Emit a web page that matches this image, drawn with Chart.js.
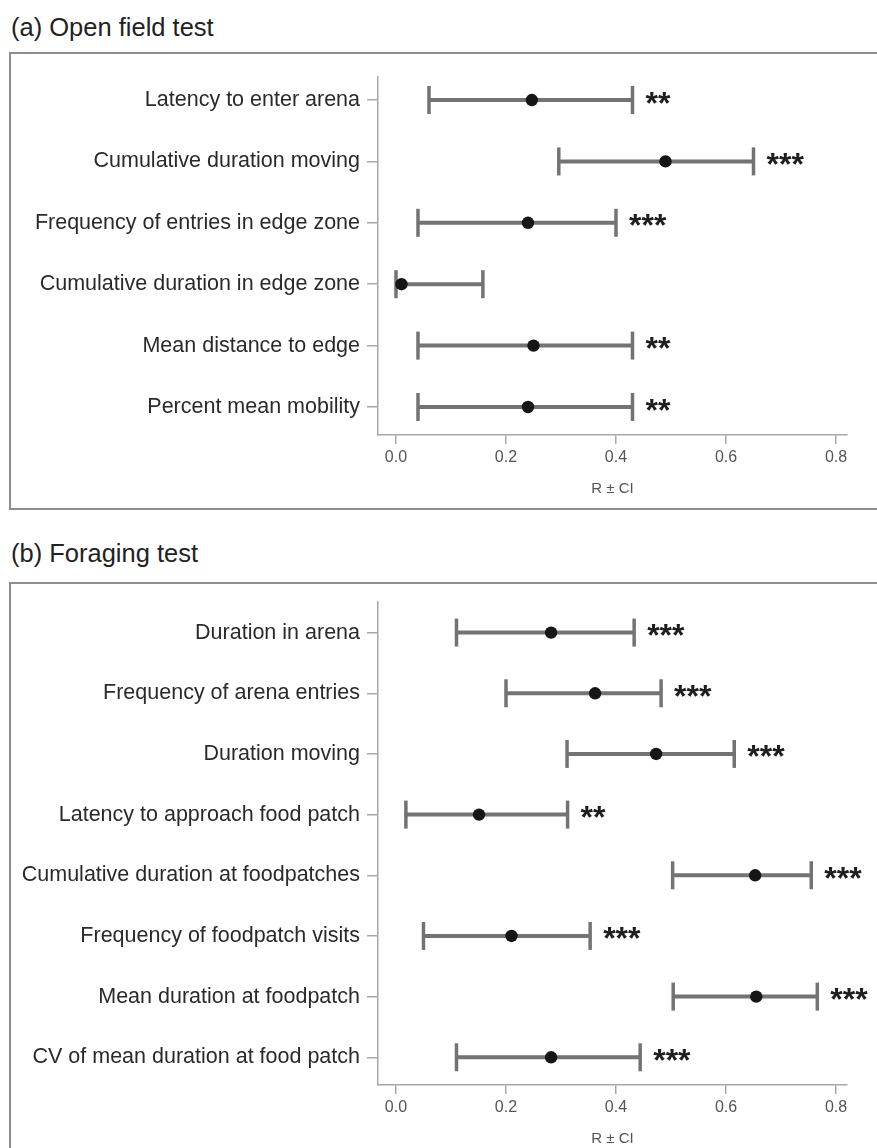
<!DOCTYPE html>
<html>
<head>
<meta charset="utf-8">
<script src="https://cdn.jsdelivr.net/npm/chart.js@4.4.1/dist/chart.umd.min.js"></script>
<style>
  html, body { margin: 0; padding: 0; background: #fff; overflow: hidden; width: 877px; height: 1148px; }
  body { position: relative; font-family: "Liberation Sans", Arial, sans-serif; }
  .title { position: absolute; left: 11px; font-size: 25.5px; line-height: 26px; color: #222; white-space: nowrap; }
  .box { position: absolute; left: 9px; width: 900px; border: 2px solid #8e8e8e; box-sizing: border-box; }
  canvas { position: absolute; left: 0; }
</style>
</head>
<body>
<div class="title" style="top:14px">(a) Open field test</div>
<div class="box" style="top:52px;height:458px"></div>
<canvas id="openField" width="877" height="456" style="top:52px"></canvas>

<div class="title" style="top:540px">(b) Foraging test</div>
<div class="box" style="top:582px;height:700px"></div>
<canvas id="foraging" width="877" height="576" style="top:582px"></canvas>

<script>
// (a) Open field test: repeatability R with confidence interval
const openLabels = [
  'Latency to enter arena',
  'Cumulative duration moving',
  'Frequency of entries in edge zone',
  'Cumulative duration in edge zone',
  'Mean distance to edge',
  'Percent mean mobility'
];
const openR  = [0.247, 0.490, 0.240, 0.010, 0.250, 0.240];
const openLo = [0.060, 0.296, 0.040, 0.000, 0.040, 0.040];
const openHi = [0.430, 0.650, 0.400, 0.158, 0.430, 0.430];
const openSig = ['**', '***', '***', '', '**', '**'];

// (b) Foraging test
const forageLabels = [
  'Duration in arena',
  'Frequency of arena entries',
  'Duration moving',
  'Latency to approach food patch',
  'Cumulative duration at foodpatches',
  'Frequency of foodpatch visits',
  'Mean duration at foodpatch',
  'CV of mean duration at food patch'
];
const forageR  = [0.282, 0.362, 0.473, 0.151, 0.653, 0.210, 0.655, 0.282];
const forageLo = [0.110, 0.200, 0.311, 0.018, 0.503, 0.050, 0.504, 0.110];
const forageHi = [0.433, 0.482, 0.615, 0.312, 0.755, 0.353, 0.766, 0.444];
const forageSig = ['***', '***', '***', '**', '***', '***', '***', '***'];

// x-axis tick values
const xTicks = [0, 0.2, 0.4, 0.6, 0.8];
const xTitle = 'R \u00b1 CI';

Chart.defaults.font.family = '"Liberation Sans", Arial, sans-serif';

const AXIS_GREY = '#a8a8a8';
const BAR_GREY = '#737373';

// significance stars written just right of each interval's upper end
const starPlugin = {
  id: 'sigStars',
  afterDatasetsDraw(chart, args, opts) {
    const { ctx } = chart;
    const xs = chart.scales.x, ys = chart.scales.y;
    ctx.save();
    ctx.fillStyle = '#1e1e1e';
    ctx.font = 'bold 32px "Liberation Sans", Arial, sans-serif';
    ctx.textAlign = 'left';
    ctx.textBaseline = 'alphabetic';
    opts.hi.forEach((h, i) => {
      if (!opts.sig[i]) return;
      const x = xs.getPixelForValue(h) + 13;
      const y = ys.getPixelForValue(i) + 13.5;
      ctx.fillText(opts.sig[i], x, y);
    });
    ctx.restore();
  }
};

function buildChart(id, labels, r, lo, hi, sig, yMin, yMax, padTop) {
  const ciData = [];
  lo.forEach((l, i) => {
    ciData.push({ x: l, y: i }, { x: hi[i], y: i }, { x: null, y: null });
  });
  const dots = r.map((v, i) => ({ x: v, y: i }));

  return new Chart(document.getElementById(id), {
    type: 'scatter',
    data: {
      datasets: [
        {
          data: dots,
          order: 0,
          pointRadius: 6.2,
          pointHoverRadius: 6.2,
          pointBackgroundColor: '#161616',
          pointBorderColor: '#161616',
          pointBorderWidth: 0
        },
        {
          data: ciData,
          order: 1,
          showLine: true,
          spanGaps: false,
          borderColor: BAR_GREY,
          borderWidth: 4,
          pointStyle: 'line',
          pointRotation: 90,
          pointRadius: 14,
          pointHoverRadius: 14,
          pointBorderColor: BAR_GREY,
          pointBorderWidth: 3.5
        }
      ]
    },
    options: {
      responsive: false,
      devicePixelRatio: 1,
      animation: false,
      events: [],
      layout: { padding: { left: 0, right: 30, top: padTop, bottom: 0 } },
      plugins: {
        legend: { display: false },
        tooltip: { enabled: false },
        sigStars: { hi: hi, sig: sig }
      },
      scales: {
        x: {
          type: 'linear',
          position: 'bottom',
          min: -0.0327,
          max: 0.82,
          bounds: 'data',
          afterBuildTicks(scale) { scale.ticks = xTicks.map(v => ({ value: v })); },
          afterFit(scale) { scale.height = 73; },
          ticks: {
            color: '#555',
            font: { size: 16 },
            padding: 4,
            callback: v => v.toFixed(1)
          },
          grid: { drawOnChartArea: false, drawTicks: true, tickLength: 9, color: AXIS_GREY, lineWidth: 1.5 },
          border: { display: true, color: AXIS_GREY, width: 1.5 },
          title: {
            display: true,
            text: xTitle,
            color: '#555',
            font: { size: 15 },
            padding: { top: 0, bottom: 10 }
          }
        },
        y: {
          type: 'linear',
          position: 'left',
          reverse: true,
          min: yMin,
          max: yMax,
          bounds: 'data',
          afterBuildTicks(scale) { scale.ticks = labels.map((_, i) => ({ value: i })); },
          afterFit(scale) { scale.width = 378; },
          ticks: {
            color: '#2a2a2a',
            font: { size: 21.5 },
            padding: 7,
            callback: v => labels[v]
          },
          grid: { drawOnChartArea: false, drawTicks: true, tickLength: 11, color: AXIS_GREY, lineWidth: 1.5 },
          border: { display: true, color: AXIS_GREY, width: 1.5 }
        }
      }
    },
    plugins: [starPlugin]
  });
}

buildChart('openField', openLabels, openR, openLo, openHi, openSig, -0.375, 5.456, 25);
buildChart('foraging', forageLabels, forageR, forageLo, forageHi, forageSig, -0.506, 7.457, 15);
</script>
</body>
</html>
